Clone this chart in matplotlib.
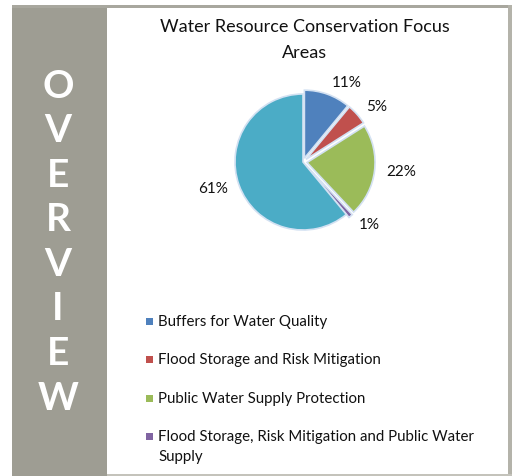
import matplotlib
matplotlib.use("Agg")
import matplotlib.pyplot as plt
from matplotlib.patches import Rectangle

# Data
categories = [
    "Buffers for Water Quality",
    "Flood Storage and Risk Mitigation",
    "Public Water Supply Protection",
    "Flood Storage, Risk Mitigation and Public Water\nSupply",
    "",
]
values = [11, 5, 22, 1, 61]
colors = ["#4f81bd", "#c0504d", "#9bbb59", "#8064a2", "#4bacc6"]
side_letters = list("OVERVIEW")
title = "Water Resource Conservation Focus\nAreas"

W, H = 514, 476
fig = plt.figure(figsize=(W / 100, H / 100), dpi=100)
fig.patch.set_facecolor("white")

panel = "#9e9d93"
def px_rect(x0, y0, x1, y1, color):
    fig.patches.append(Rectangle((x0 / W, 1 - y1 / H), (x1 - x0) / W, (y1 - y0) / H,
                                 transform=fig.transFigure, color=color, lw=0, zorder=0))

# Frame and side panel
px_rect(12, 5, 107, 476, panel)
px_rect(12, 5, 512, 8, "#a8a79e")
px_rect(508, 5, 512, 476, "#b4b3aa")
px_rect(107, 474, 512, 476, "#c4c3bb")

# Vertical OVERVIEW letters
y0, step = 86, 44.6
for i, ch in enumerate(side_letters):
    fig.text(58 / W, 1 - (y0 + i * step) / H, ch, color="white", fontsize=28,
             fontweight="bold", family="Lato", ha="center", va="center")

# Title
fig.text(305 / W, 1 - 40 / H, title, ha="center", va="center", fontsize=13,
         family="Lato", linespacing=1.75, color="#111111")

# Pie
cx, cy, r = 303, 162, 68
k = 1.45
side = 2 * r * k
ax = fig.add_axes([(cx - side / 2) / W, (H - cy - side / 2) / H, side / W, side / H])
labels = [f"{v}%" for v in values]
wedges, texts = ax.pie(values, colors=colors, startangle=90, counterclock=False,
                       explode=[0.06, 0.06, 0.06, 0.06, 0.0],
                       labels=labels, labeldistance=1.17,
                       wedgeprops=dict(edgecolor="#d3e1f2", linewidth=1.2),
                       textprops=dict(fontsize=11, family="Lato", color="#111111"))
ax.set_xlim(-k, k)
ax.set_ylim(-k, k)
ax.set_aspect("equal")
ax.axis("off")

# Legend
leg_rows = [321, 359, 398, 436]
for yy, lab, col in zip(leg_rows, categories[:4], colors[:4]):
    s = 7
    fig.patches.append(Rectangle(((149 - s / 2) / W, 1 - (yy + s / 2) / H), s / W, s / H,
                                 transform=fig.transFigure, color=col, lw=0))
    fig.text(158 / W, 1 - (yy - 6) / H, lab, ha="left", va="top", fontsize=10.8,
             family="Lato", linespacing=1.5, color="#111111")

fig.savefig("out.png", dpi=100)
